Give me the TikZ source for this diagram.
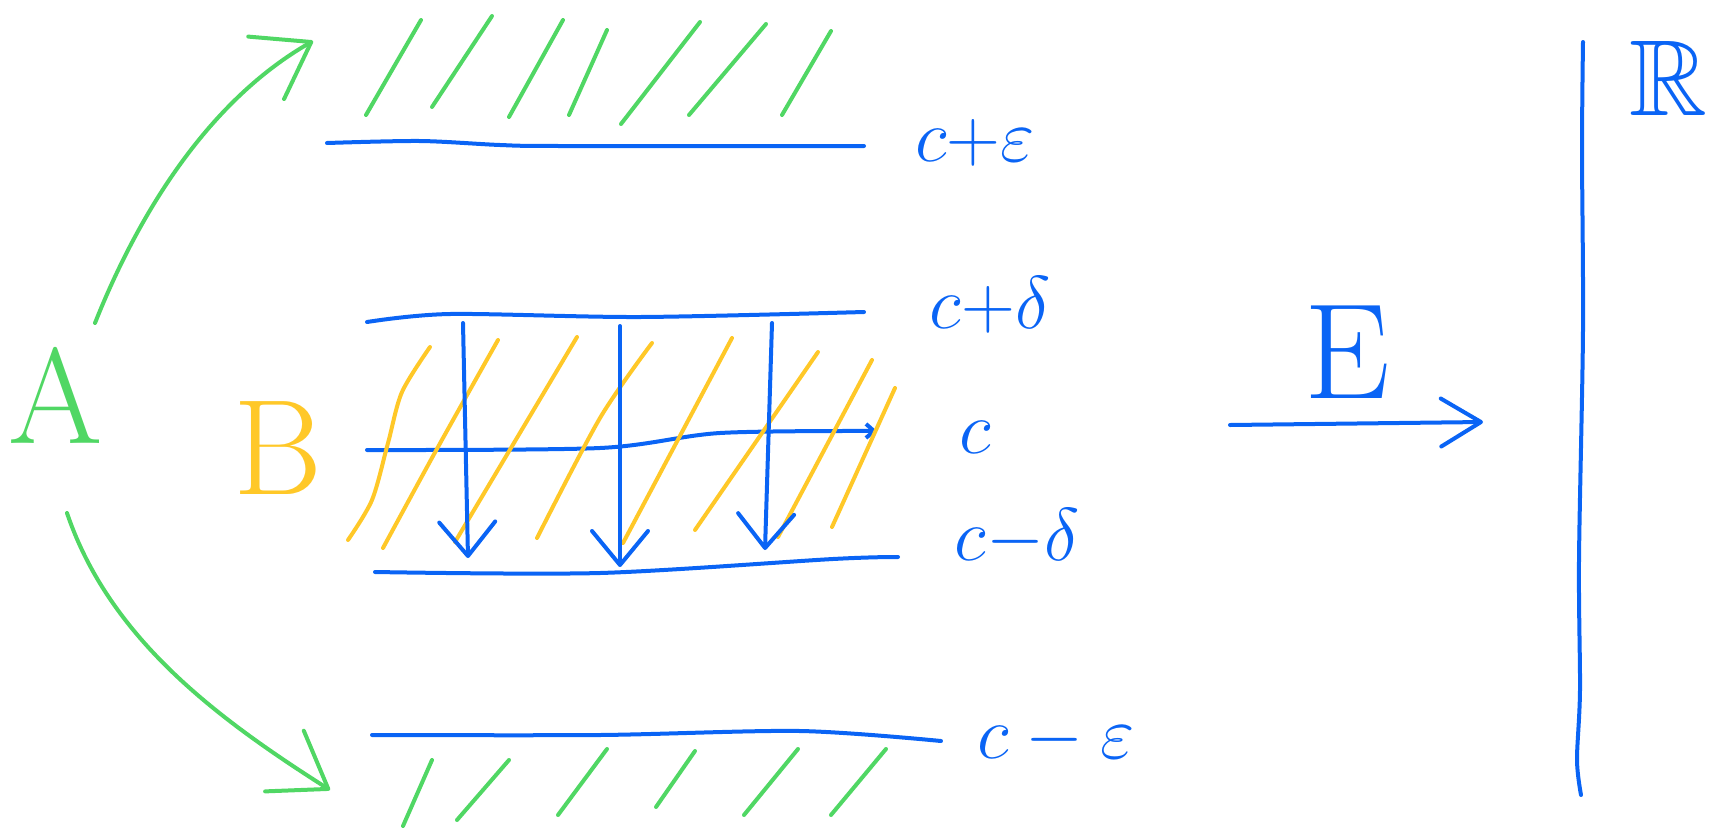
\documentclass[tikz,border=0pt]{standalone}
\usepackage{amsmath, amssymb}
\usepackage{tikz}
\usetikzlibrary{arrows.meta}

\definecolor{penblue}{RGB}{10,100,245}
\definecolor{pengreen}{RGB}{80,215,100}
\definecolor{penyellow}{RGB}{255,200,40}

\begin{document}
\begin{tikzpicture}[x=0.5pt, y=-0.5pt]

\tikzstyle{ink} = [line width=2pt, line cap=round, line join=round]
\tikzstyle{blueline} = [ink, draw=penblue]
\tikzstyle{greenline} = [ink, draw=pengreen]
\tikzstyle{yellowline} = [ink, draw=penyellow]
\tikzstyle{downarrow} = [blueline, -{Straight Barb[length=17pt, width=28pt, round]}]
\tikzstyle{greenarrow} = [greenline, -{Straight Barb[length=26pt, width=36pt, round]}]
\tikzstyle{maparrow} = [blueline, -{Straight Barb[length=20pt, width=24pt, round]}]
\tikzstyle{boundlabel} = [text=penblue, font=\fontsize{20}{24}\selectfont, scale=1.8, inner sep=0pt]
\tikzstyle{biglabel} = [font=\fontsize{68}{72}\selectfont, inner sep=0pt]

\useasboundingbox (0,0) rectangle (1715,831);

\node at (56,395) [biglabel, text=pengreen] (A) {A};
\node at (278,448) [biglabel, text=penyellow] (B) {B};
\node at (1347,352) [biglabel, text=penblue] (E) {E};
\node at (1668,78) [biglabel, text=penblue, font=\fontsize{54}{58}\selectfont] (R) {$\mathbb{R}$};

\node at (975,143) [boundlabel] (c_eps_up) {$c{+}\varepsilon$};
\node at (990,305) [boundlabel] (c_delta_up) {$c{+}\delta$};
\node at (975,437) [boundlabel] (c_mid) {$c$};
\node at (1017,538) [boundlabel] (c_delta_down) {$c{-}\delta$};
\node at (1056,740) [boundlabel] (c_eps_down) {$c - \varepsilon$};

\coordinate (up_start) at (95,323);
\coordinate (up_end) at (313,41);
\coordinate (down_start) at (67,513);
\coordinate (down_end) at (330,790);
\coordinate (map_start) at (1230,425);
\coordinate (map_end) at (1483,422);

% levels
\path [blueline] plot [smooth] coordinates {(327,143) (420,141) (500,145) (560,146) (864,146)};
\path [blueline] plot [smooth] coordinates {(367,322) (450,314) (640,317) (864,312)};
\path [blueline, -{Straight Barb[length=4pt, width=7pt]}] plot [smooth] coordinates {(367,450) (600,448) (720,433) (877,431)};
\path [blueline] plot [smooth] coordinates {(375,572) (600,573) (833,559) (898,557)};
\path [blueline] plot [smooth] coordinates {(372,735) (600,735) (800,731) (941,741)};

% hatching outside
\path [greenline] (366,115) -- (421,20);
\path [greenline] (432,107) -- (492,16);
\path [greenline] (509,117) -- (563,20);
\path [greenline] (569,115) -- (607,30);
\path [greenline] (621,124) -- (700,22);
\path [greenline] (689,115) -- (766,24);
\path [greenline] (782,115) -- (831,31);

\path [greenline] (403,826) -- (432,760);
\path [greenline] (457,820) -- (509,760);
\path [greenline] (558,815) -- (607,749);
\path [greenline] (656,807) -- (695,751);
\path [greenline] (744,815) -- (798,749);
\path [greenline] (831,815) -- (886,749);

% hatching inside
\path [yellowline] plot [smooth] coordinates {(348,540) (372,500) (388,443) (402,392) (430,347)};
\path [yellowline] plot [smooth] coordinates {(383,548) (438,447) (498,340)};
\path [yellowline] (455,542) -- (577,337);
\path [yellowline] plot [smooth] coordinates {(537,538) (600,418) (652,343)};
\path [yellowline] (623,543) -- (732,338);
\path [yellowline] (695,530) -- (818,352);
\path [yellowline] (778,537) -- (872,360);
\path [yellowline] (832,527) -- (895,388);

\path [downarrow] (463,323) -- (468,558);
\path [downarrow] (620,326) -- (620,567);
\path [downarrow] (772,323) -- (765,550);

\path [greenarrow] (up_start) .. controls (140,210) and (210,100) .. (up_end);
\path [greenarrow] (down_start) .. controls (110,640) and (220,720) .. (down_end);

\path [maparrow] (map_start) -- (map_end);
\path [blueline] plot [smooth] coordinates {(1583,42) (1582,150) (1583,330) (1579,560) (1580,690) (1577,760) (1581,795)};

\end{tikzpicture}
\end{document}
